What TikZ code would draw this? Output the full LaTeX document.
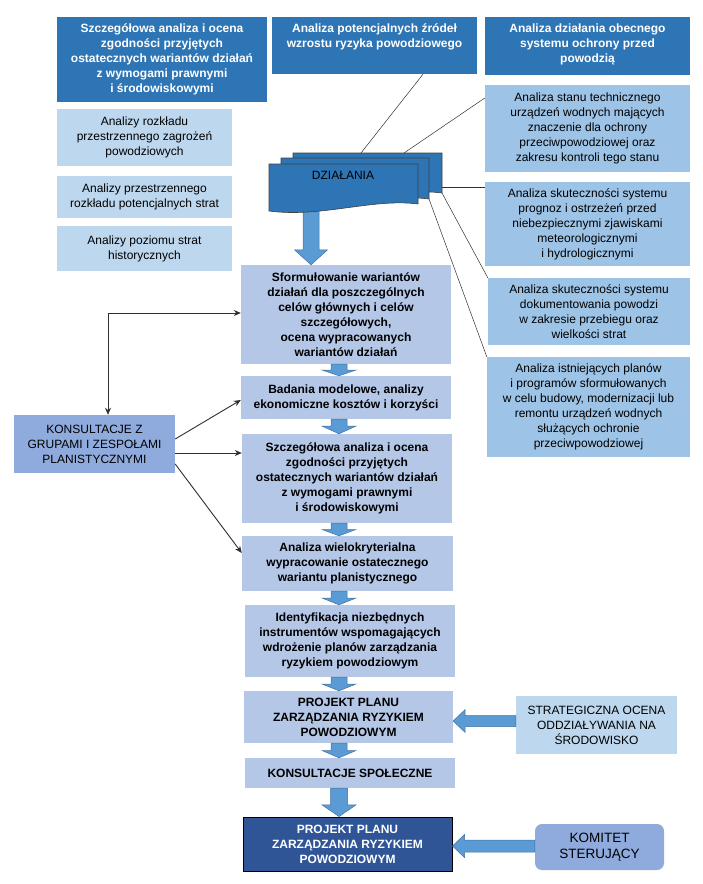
\documentclass[tikz,border=0pt]{standalone}
\usepackage{fontspec}
\setmainfont{Liberation Sans}
\usetikzlibrary{calc,arrows.meta}
\definecolor{topblue}{HTML}{2E75B6}
\definecolor{lightblue}{HTML}{BDD7EE}
\definecolor{rightblue}{HTML}{9DC3E6}
\definecolor{centerblue}{HTML}{B4C7E7}
\definecolor{konsblue}{HTML}{8FAADC}
\definecolor{arrowblue}{HTML}{5B9BD5}
\definecolor{arrowedge}{HTML}{41719C}
\definecolor{finalblue}{HTML}{2F5597}
\definecolor{docedge}{HTML}{404040}
\definecolor{connline}{HTML}{303030}
\newcommand\vbarrow[5]{%
  \coordinate (va) at #1;
  \coordinate (vb) at #2;
  \coordinate (vm) at ($(va)!#3!(vb)$);
  \filldraw[barrow] ($(va)+(-#4,0)$) -- ($(va)+(#4,0)$) -- ($(vm)+(#4,0)$) -- ($(vm)+(#5,0)$) -- (vb) -- ($(vm)+(-#5,0)$) -- ($(vm)+(-#4,0)$) -- cycle;}
\newcommand\hbarrow[5]{%
  \coordinate (ha) at #1;
  \coordinate (hb) at #2;
  \coordinate (hm) at ($(hb)+(#3,0)$);
  \filldraw[barrow] ($(ha)+(0,-#4)$) -- ($(hm)+(0,-#4)$) -- ($(hm)+(0,-#5)$) -- (hb) -- ($(hm)+(0,#5)$) -- ($(hm)+(0,#4)$) -- ($(ha)+(0,#4)$) -- cycle;}
\newcommand\docpath[5]{% x1 x2 ytop yR
  \filldraw[docstyle] (#1,#3) -- (#2,#3) -- (#2,#4) .. controls ($(#2,#4)+(-45,-6)$) and ($(#1,#4)+(52,14)$) .. (#1,#5) -- cycle;}
\begin{document}
\begin{tikzpicture}[x=1pt,y=-1pt,
  base/.style={rectangle, inner sep=0pt, align=center, font=\fontsize{12}{15}\selectfont},
  topbox/.style={base, fill=topblue, text=white, font=\fontsize{12}{15}\selectfont\bfseries},
  toptext/.style={inner sep=0pt, align=center, text=white, font=\fontsize{12}{15}\selectfont\bfseries},
  leftbox/.style={base, fill=lightblue},
  rightbox/.style={base, fill=rightblue},
  cbox/.style={base, fill=centerblue, font=\fontsize{12}{15}\selectfont\bfseries},
  konsbox/.style={base, fill=konsblue},
  barrow/.style={fill=arrowblue, draw=arrowedge, line width=0.5pt},
  docstyle/.style={fill=topblue, draw=docedge, line width=0.6pt},
  thinline/.style={draw=connline, line width=0.5pt},
  conn/.style={draw=connline, line width=0.9pt, -{Stealth[length=7pt,width=6pt]}},
  conn2/.style={draw=connline, line width=0.9pt, {Stealth[length=7pt,width=6pt]}-{Stealth[length=7pt,width=6pt]}}
]
\useasboundingbox (0,0) rectangle (702,884);
\fill[white] (0,0) rectangle (702,884);

% top row
\node[topbox, minimum width=210pt, minimum height=85pt] (b1) at (162,59.5)
  {Szczegółowa analiza i ocena\\zgodności przyjętych\\ostatecznych wariantów działań\\z wymogami prawnymi\\i środowiskowymi};
\node[topbox, minimum width=205pt, minimum height=57pt] (b2) at (374.5,45.5) {};
\node[toptext, anchor=north] (b2t) at ($(b2.north)+(0,7)$) {Analiza potencjalnych źródeł\\wzrostu ryzyka powodziowego};
\node[topbox, minimum width=205pt, minimum height=58pt] (b3) at (587.5,46) {};
\node[toptext, anchor=north] (b3t) at ($(b3.north)+(0,7)$) {Analiza działania obecnego\\systemu ochrony przed\\powodzią};

% left column
\node[leftbox, minimum width=175pt, minimum height=57pt] (l1) at (144.5,137.5)
  {Analizy rozkładu\\przestrzennego zagrożeń\\powodziowych};
\node[leftbox, minimum width=175pt, minimum height=42pt] (l2) at (144.5,197)
  {Analizy przestrzennego\\rozkładu potencjalnych strat};
\node[leftbox, minimum width=175pt, minimum height=45pt] (l3) at (144.5,248.5)
  {Analizy poziomu strat\\historycznych};

% right column
\node[rightbox, minimum width=205pt, minimum height=87pt] (r1) at (587.5,128.5)
  {Analiza stanu technicznego\\urządzeń wodnych mających\\znaczenie dla ochrony\\przeciwpowodziowej oraz\\zakresu kontroli tego stanu};
\node[rightbox, minimum width=205pt, minimum height=84pt] (r2) at (587.5,224)
  {Analiza skuteczności systemu\\prognoz i ostrzeżeń przed\\niebezpiecznymi zjawiskami\\meteorologicznymi\\i hydrologicznymi};
\node[rightbox, minimum width=202pt, minimum height=67pt] (r3) at (589,311.5)
  {Analiza skuteczności systemu\\dokumentowania powodzi\\w zakresie przebiegu oraz\\wielkości strat};
\node[rightbox, minimum width=203pt, minimum height=100pt] (r4) at (588.5,407)
  {Analiza istniejących planów\\i programów sformułowanych\\w celu budowy, modernizacji lub\\remontu urządzeń wodnych\\służących ochronie\\przeciwpowodziowej};

% center column
\node[cbox, minimum width=210pt, minimum height=99pt] (c1) at (346,314.5)
  {Sformułowanie wariantów\\działań dla poszczególnych\\celów głównych i celów\\szczegółowych,\\ocena wypracowanych\\wariantów działań};
\node[cbox, minimum width=210pt, minimum height=43pt] (c2) at (346,397.5)
  {Badania modelowe, analizy\\ekonomiczne kosztów i korzyści};
\node[cbox, minimum width=210pt, minimum height=89pt] (c3) at (347,478.5)
  {Szczegółowa analiza i ocena\\zgodności przyjętych\\ostatecznych wariantów działań\\z wymogami prawnymi\\i środowiskowymi};
\node[cbox, minimum width=211pt, minimum height=55pt] (c4) at (347.5,563.5)
  {Analiza wielokryterialna\\wypracowanie ostatecznego\\wariantu planistycznego};
\node[cbox, minimum width=210pt, minimum height=72pt] (c5) at (350,641)
  {Identyfikacja niezbędnych\\instrumentów wspomagających\\wdrożenie planów zarządzania\\ryzykiem powodziowym};
\node[cbox, minimum width=209pt, minimum height=52pt] (c6) at (348.5,717)
  {PROJEKT PLANU\\ZARZĄDZANIA RYZYKIEM\\POWODZIOWYM};
\node[cbox, minimum width=210pt, minimum height=30pt] (c7) at (350,773)
  {KONSULTACJE SPOŁECZNE};
\node[cbox, fill=finalblue, text=white, draw=black, line width=1pt, minimum width=209pt, minimum height=54pt] (c8) at (347.5,844)
  {PROJEKT PLANU\\ZARZĄDZANIA RYZYKIEM\\POWODZIOWYM};

% side boxes
\node[konsbox, minimum width=161pt, minimum height=58pt] (k) at (94.5,444)
  {KONSULTACJE Z\\GRUPAMI I ZESPOŁAMI\\PLANISTYCZNYMI};
\node[leftbox, minimum width=161pt, minimum height=58pt] (s) at (596.5,725)
  {STRATEGICZNA OCENA\\ODDZIAŁYWANIA NA\\ŚRODOWISKO};
\node[konsbox, rounded corners=7pt, minimum width=129pt, minimum height=46pt, font=\fontsize{13.5}{16}\selectfont] (kom) at (599.5,847)
  {KOMITET\\STERUJĄCY};

% big arrow from DZIAŁANIA
\coordinate (dzbottom) at (311,205);
\vbarrow{(dzbottom)}{(311,0 |- c1.north)}{0.75}{8}{16.5}

% DZIAŁANIA documents
\docpath{293}{442}{153}{193}{200}
\docpath{281}{429}{158}{199}{206}
\docpath{269}{418}{164}{204}{211}
\node[font=\fontsize{12}{14}\selectfont, inner sep=0pt] (dz) at (343,175) {DZIAŁANIA};
\coordinate (d3topA) at (361,153);
\coordinate (d3topB) at (404,153);
\coordinate (d3right) at (442,187);
\coordinate (d3corner) at (442,193);
\coordinate (d2corner) at (429,199);

% thin connectors
\draw[thinline] (423,0 |- b2.south) -- (d3topA);
\draw[thinline] (r1.west |- 0,98) -- (d3topB);
\draw[thinline, line width=0.8pt] (d3right) -- (r2.west |- d3right);
\draw[thinline] (d3corner) -- (r3.north west);
\draw[thinline] (d2corner) -- (r4.north west);

% small block arrows
\vbarrow{(339,0 |- c1.south)}{(339,0 |- c2.north)}{0.5}{8}{17}
\vbarrow{(339,0 |- c2.south)}{(339,0 |- c3.north)}{0.47}{8}{17}
\vbarrow{(339,0 |- c3.south)}{(339,0 |- c4.north)}{0.5}{8}{17}
\vbarrow{(339,0 |- c4.south)}{(339,0 |- c5.north)}{0.5}{8}{17}
\vbarrow{(339,0 |- c5.south)}{(339,0 |- c6.north)}{0.5}{8}{17}
\vbarrow{(339,0 |- c6.south)}{(339,0 |- c7.north)}{0.5}{8}{17}
\vbarrow{(339,0 |- c7.south)}{(339,0 |- c8.north)}{0.59}{8.5}{17}

% horizontal block arrows
\hbarrow{(s.west |- 0,721)}{(c6.east |- 0,721)}{12}{5.5}{11.5}
\hbarrow{(kom.west |- 0,846)}{(c8.east |- 0,846)}{12}{6}{11.5}

% consultation connectors
\draw[conn2] (c1.west |- 0,313) -| (108,0 |- k.north);
\draw[conn] (k.east |- 0,439) -- (c2.west |- 0,400);
\draw[conn] (k.east |- 0,453) -- (c3.west |- 0,453);
\draw[conn] (k.east |- 0,464) -- (c4.west |- 0,553);
\end{tikzpicture}
\end{document}
